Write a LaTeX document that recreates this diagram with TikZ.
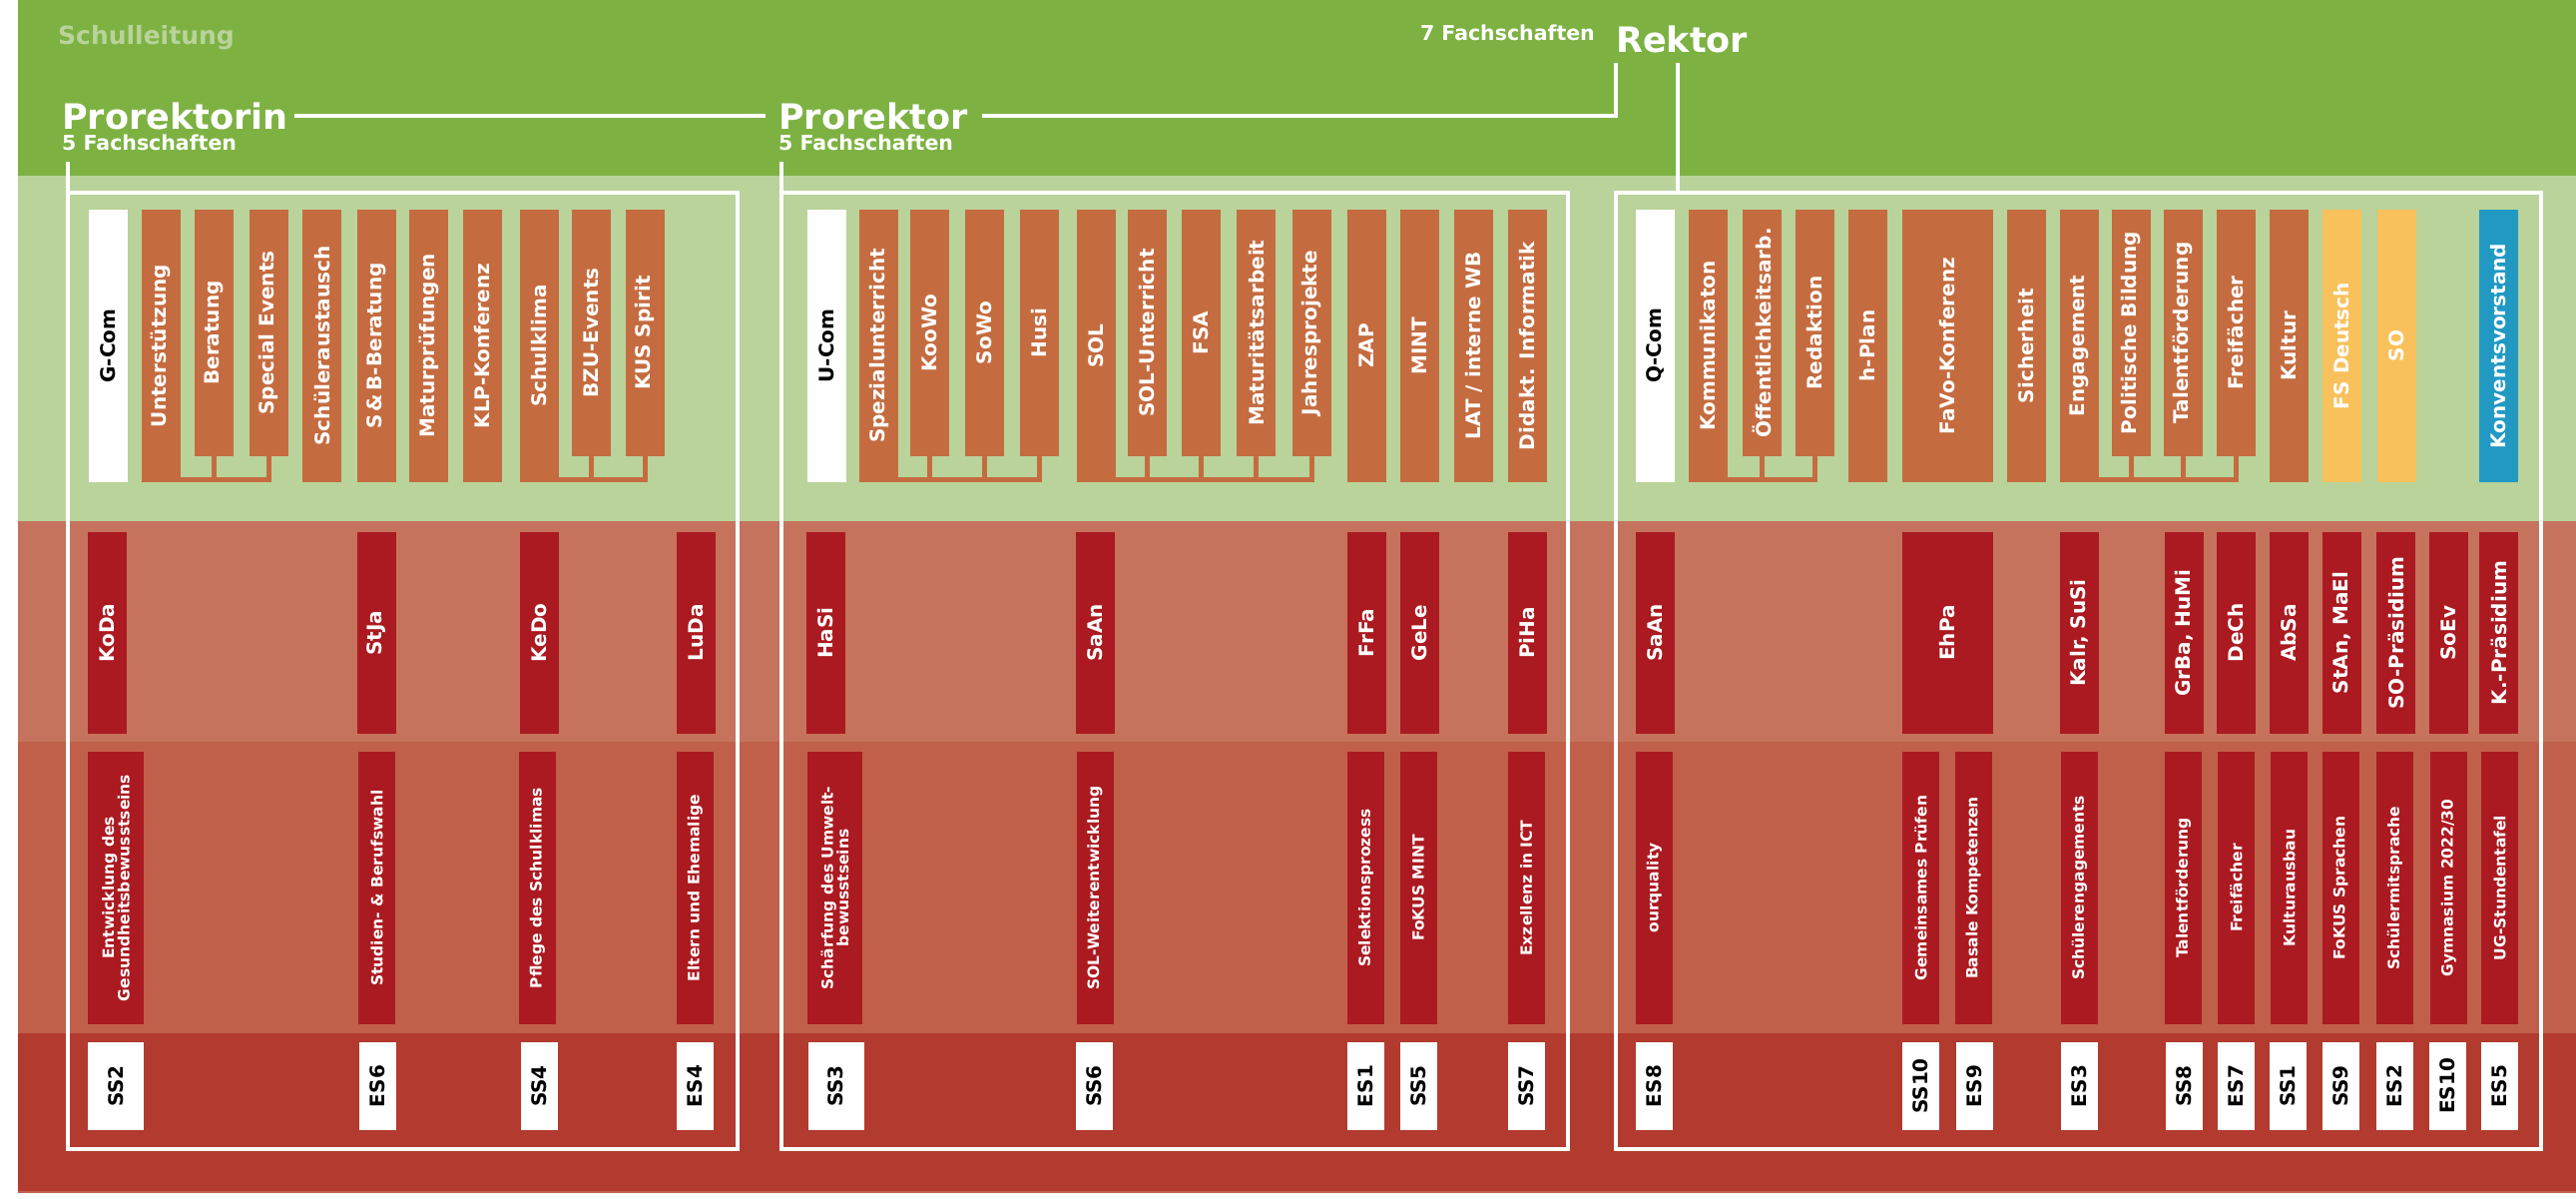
\documentclass[tikz,border=0pt]{standalone}
\usepackage{fontspec}
\setmainfont{DejaVu Sans}
\definecolor{leitgreen}{HTML}{7DB243}
\definecolor{palegreen}{HTML}{B9D39A}
\definecolor{salmonband}{HTML}{C5735D}
\definecolor{brickband}{HTML}{C0604A}
\definecolor{rustband}{HTML}{B23A2E}
\definecolor{taskorange}{HTML}{C46C40}
\definecolor{leadred}{HTML}{AB1A21}
\definecolor{soyellow}{HTML}{F9C15B}
\definecolor{kvblue}{HTML}{2199C3}
\begin{document}
\begin{tikzpicture}[x=1pt, y=-1pt,
  box/.style={rotate=90, anchor=east, inner sep=0pt, outer sep=0pt, minimum height=39pt, text=white, align=center, font=\bfseries\fontsize{20}{22}\selectfont},
  tall/.style={minimum width=273pt},
  short/.style={minimum width=247pt},
  obox/.style={box, fill=taskorange},
  combox/.style={box, tall, fill=white, text=black},
  ybox/.style={box, tall, fill=soyellow},
  kvbox/.style={box, tall, fill=kvblue},
  rbox/.style={box, fill=leadred, minimum width=202pt},
  zbox/.style={box, fill=leadred, minimum width=273pt, minimum height=37pt, font=\bfseries\fontsize{15.5}{15.5}\selectfont},
  cbox/.style={box, fill=white, text=black, minimum width=88pt, minimum height=37pt},
  secframe/.style={draw=white, line width=4pt, inner sep=0pt, outer sep=0pt, anchor=north west, minimum height=958pt},
  wline/.style={draw=white, line width=4pt},
  link/.style={draw=taskorange, line width=5pt},
  hdtext/.style={text=white, inner sep=0pt, font=\bfseries\fontsize{35}{40}\selectfont},
  fstext/.style={text=white, inner sep=0pt, font=\bfseries\fontsize{20.5}{24}\selectfont}]
  \useasboundingbox (0,0) rectangle (2581,1200);
  % bands
  \fill[white] (0,0) rectangle (2581,1200);
  \fill[leitgreen] (18,0) rectangle (2581,176);
  \fill[palegreen] (18,176) rectangle (2581,522);
  \fill[salmonband] (18,522) rectangle (2581,743);
  \fill[brickband] (18,743) rectangle (2581,1035);
  \fill[rustband] (18,1035) rectangle (2581,1193);
  \fill[brickband] (18,1193) rectangle (2581,1195);
  % heads
  \node[anchor=base west, inner sep=0pt, text=palegreen, font=\bfseries\fontsize{25}{30}\selectfont] (sl) at (58,44) {Schulleitung};
  \node[hdtext, anchor=base west] (prin) at (62,129) {Prorektorin};
  \node[fstext, anchor=base west] (prinfs) at (62,150) {5 Fachschaften};
  \node[hdtext, anchor=base west] (pror) at (780,129) {Prorektor};
  \node[fstext, anchor=base west] (prorfs) at (780,150) {5 Fachschaften};
  \node[hdtext, anchor=base west] (rekt) at (1619,52) {Rektor};
  \node[fstext, anchor=base east] (rektfs) at (1598,40) {7 Fachschaften};
  % frames
  \node[secframe, minimum width=671pt] (fr1) at (68,193) {};
  \node[secframe, minimum width=788pt] (fr2) at (783,193) {};
  \node[secframe, minimum width=927pt] (fr3) at (1619,193) {};
  \coordinate (kn) at (1619,117);
  \coordinate (kt) at (1619,63);
  \coordinate (kr) at (1681,63);
  \draw[wline] ([xshift=6pt]prin.east) -- ([xshift=-13pt]pror.west);
  \draw[wline] ([xshift=14pt]pror.east) -- (pror.east -| kn) -- (kt);
  \draw[wline] (fr1.north west) -- ++(0,-31);
  \draw[wline] (fr2.north west) -- ++(0,-31);
  \draw[wline] (kr) -- (kr |- fr3.north);
  % Prorektorin: top row
  \node[combox] (gcom) at (108,210) {G-Com};
  \node[obox, tall] (unt) at (161,210) {Unterstützung};
  \node[obox, short] (ber) at (214.5,210) {Beratung};
  \node[obox, short] (spe) at (269,210) {Special Events};
  \node[obox, tall] (sau) at (322.5,210) {Schüleraustausch};
  \node[obox, tall] (sbb) at (377,210) {S\,\&\,B-Beratung};
  \node[obox, tall] (mpr) at (429.5,210) {Maturprüfungen};
  \node[obox, tall] (klp) at (483.5,210) {KLP-Konferenz};
  \node[obox, tall] (skl) at (540.5,210) {Schulklima};
  \node[obox, short] (bzu) at (592.5,210) {BZU-Events};
  \node[obox, short] (kus) at (646,210) {KUS Spirit};
  % Prorektorin: people, goals, codes
  \node[rbox] (koda) at (107.5,533) {KoDa};
  \node[rbox] (stja) at (377.5,533) {StJa};
  \node[rbox] (kedo) at (540.5,533) {KeDo};
  \node[rbox] (luda) at (697.5,533) {LuDa};
  \node[zbox, minimum height=56pt] (ges) at (116,753) {Entwicklung des\\Gesundheitsbewusstseins};
  \node[zbox] (stud) at (377.5,753) {Studien- \& Berufswahl};
  \node[zbox] (pfl) at (538.5,753) {Pflege des Schulklimas};
  \node[zbox] (elt) at (696.5,753) {Eltern und Ehemalige};
  \node[cbox, minimum height=56pt] (ss2) at (116,1044) {SS2};
  \node[cbox] (es6) at (378,1044) {ES6};
  \node[cbox] (ss4) at (540.5,1044) {SS4};
  \node[cbox] (es4) at (696.5,1044) {ES4};
  % Prorektor: top row
  \node[combox] (ucom) at (828,210) {U-Com};
  \node[obox, tall] (spez) at (880.5,210) {Spezialunterricht};
  \node[obox, short] (koo) at (931.5,210) {KooWo};
  \node[obox, short] (sowo) at (986.5,210) {SoWo};
  \node[obox, short] (husi) at (1041.5,210) {Husi};
  \node[obox, tall] (sol) at (1098.5,210) {SOL};
  \node[obox, short] (solu) at (1149.5,210) {SOL-Unterricht};
  \node[obox, short] (fsa) at (1203.5,210) {FSA};
  \node[obox, short] (mat) at (1258.5,210) {Maturitätsarbeit};
  \node[obox, short] (jahr) at (1314.5,210) {Jahresprojekte};
  \node[obox, tall] (zap) at (1369.5,210) {ZAP};
  \node[obox, tall] (mint) at (1422.5,210) {MINT};
  \node[obox, tall] (lat) at (1476.5,210) {LAT / interne WB};
  \node[obox, tall] (did) at (1530.5,210) {Didakt. Informatik};
  % Prorektor: people, goals, codes
  \node[rbox] (hasi) at (827.5,533) {HaSi};
  \node[rbox] (saan) at (1097.5,533) {SaAn};
  \node[rbox] (frfa) at (1369,533) {FrFa};
  \node[rbox] (gele) at (1422,533) {GeLe};
  \node[rbox] (piha) at (1530,533) {PiHa};
  \node[zbox, minimum height=55pt] (umw) at (836.5,753) {Schärfung des Umwelt-\\bewusstseins};
  \node[zbox] (solw) at (1097,753) {SOL-Weiterentwicklung};
  \node[zbox] (sel) at (1368.5,753) {Selektionsprozess};
  \node[zbox] (fokm) at (1421,753) {FoKUS MINT};
  \node[zbox] (exz) at (1529,753) {Exzellenz in ICT};
  \node[cbox, minimum height=56pt] (ss3) at (837.5,1044) {SS3};
  \node[cbox] (ss6) at (1096,1044) {SS6};
  \node[cbox] (es1) at (1368,1044) {ES1};
  \node[cbox] (ss5) at (1421,1044) {SS5};
  \node[cbox] (ss7) at (1529.5,1044) {SS7};
  % Rektor: top row
  \node[combox] (qcom) at (1658.5,210) {Q-Com};
  \node[obox, tall] (kom) at (1711,210) {Kommunikaton};
  \node[obox, short] (oeff) at (1765.5,210) {Öffentlichkeitsarb.};
  \node[obox, short] (redk) at (1818,210) {Redaktion};
  \node[obox, tall] (hpl) at (1871,210) {h-Plan};
  \node[obox, tall, minimum height=91pt] (favo) at (1951.5,210) {FaVo-Konferenz};
  \node[obox, tall] (sich) at (2030,210) {Sicherheit};
  \node[obox, tall] (eng) at (2083,210) {Engagement};
  \node[obox, short] (polb) at (2135,210) {Politische Bildung};
  \node[obox, short] (tal) at (2187,210) {Talentförderung};
  \node[obox, short] (frei) at (2240,210) {Freifächer};
  \node[obox, tall] (kult) at (2293.5,210) {Kultur};
  \node[ybox] (fsd) at (2346,210) {FS Deutsch};
  \node[ybox] (so) at (2401,210) {SO};
  \node[kvbox] (kvv) at (2503,210) {Konventsvorstand};
  % Rektor: people, goals, codes
  \node[rbox] (saan2) at (1658,533) {SaAn};
  \node[rbox, minimum height=91pt] (ehpa) at (1951.5,533) {EhPa};
  \node[rbox] (kalr) at (2083,533) {Kalr, SuSi};
  \node[rbox] (grba) at (2188,533) {GrBa, HuMi};
  \node[rbox] (dech) at (2240.5,533) {DeCh};
  \node[rbox] (absa) at (2293.5,533) {AbSa};
  \node[rbox] (stan) at (2346.5,533) {StAn, MaEl};
  \node[rbox] (sopr) at (2400.5,533) {SO-Präsidium};
  \node[rbox] (soev) at (2453.5,533) {SoEv};
  \node[rbox] (kpr) at (2503.5,533) {K.-Präsidium};
  \node[zbox] (ourq) at (1657.5,753) {ourquality};
  \node[zbox] (gemp) at (1924.5,753) {Gemeinsames Prüfen};
  \node[zbox] (bask) at (1977,753) {Basale Kompetenzen};
  \node[zbox] (seng) at (2083.5,753) {Schülerengagements};
  \node[zbox] (talf) at (2187.5,753) {Talentförderung};
  \node[zbox] (freif) at (2240.5,753) {Freifächer};
  \node[zbox] (kulta) at (2293.5,753) {Kulturausbau};
  \node[zbox] (foks) at (2345,753) {FoKUS Sprachen};
  \node[zbox] (smit) at (2399.5,753) {Schülermitsprache};
  \node[zbox] (gym) at (2453.5,753) {Gymnasium 2022/30};
  \node[zbox] (ugst) at (2504.5,753) {UG-Stundentafel};
  \node[cbox] (es8) at (1657,1044) {ES8};
  \node[cbox] (ss10) at (1924.5,1044) {SS10};
  \node[cbox] (es9) at (1978,1044) {ES9};
  \node[cbox] (es3) at (2083.5,1044) {ES3};
  \node[cbox] (ss8) at (2188,1044) {SS8};
  \node[cbox] (es7) at (2240.5,1044) {ES7};
  \node[cbox] (ss1) at (2292.5,1044) {SS1};
  \node[cbox] (ss9) at (2345.5,1044) {SS9};
  \node[cbox] (es2) at (2399,1044) {ES2};
  \node[cbox] (es10) at (2452,1044) {ES10};
  \node[cbox] (es5) at (2504,1044) {ES5};
  % group brackets under the top row
  \coordinate (lv) at (0,480.5);
  \draw[link] (ber.west) -- (ber.west |- lv);
  \draw[link] (spe.west) |- (unt.south |- lv);
  \draw[link] (bzu.west) -- (bzu.west |- lv);
  \draw[link] (kus.west) |- (skl.south |- lv);
  \draw[link] (koo.west) -- (koo.west |- lv);
  \draw[link] (sowo.west) -- (sowo.west |- lv);
  \draw[link] (husi.west) |- (spez.south |- lv);
  \draw[link] (solu.west) -- (solu.west |- lv);
  \draw[link] (fsa.west) -- (fsa.west |- lv);
  \draw[link] (mat.west) -- (mat.west |- lv);
  \draw[link] (jahr.west) |- (sol.south |- lv);
  \draw[link] (oeff.west) -- (oeff.west |- lv);
  \draw[link] (redk.west) |- (kom.south |- lv);
  \draw[link] (polb.west) -- (polb.west |- lv);
  \draw[link] (tal.west) -- (tal.west |- lv);
  \draw[link] (frei.west) |- (eng.south |- lv);
\end{tikzpicture}
\end{document}
